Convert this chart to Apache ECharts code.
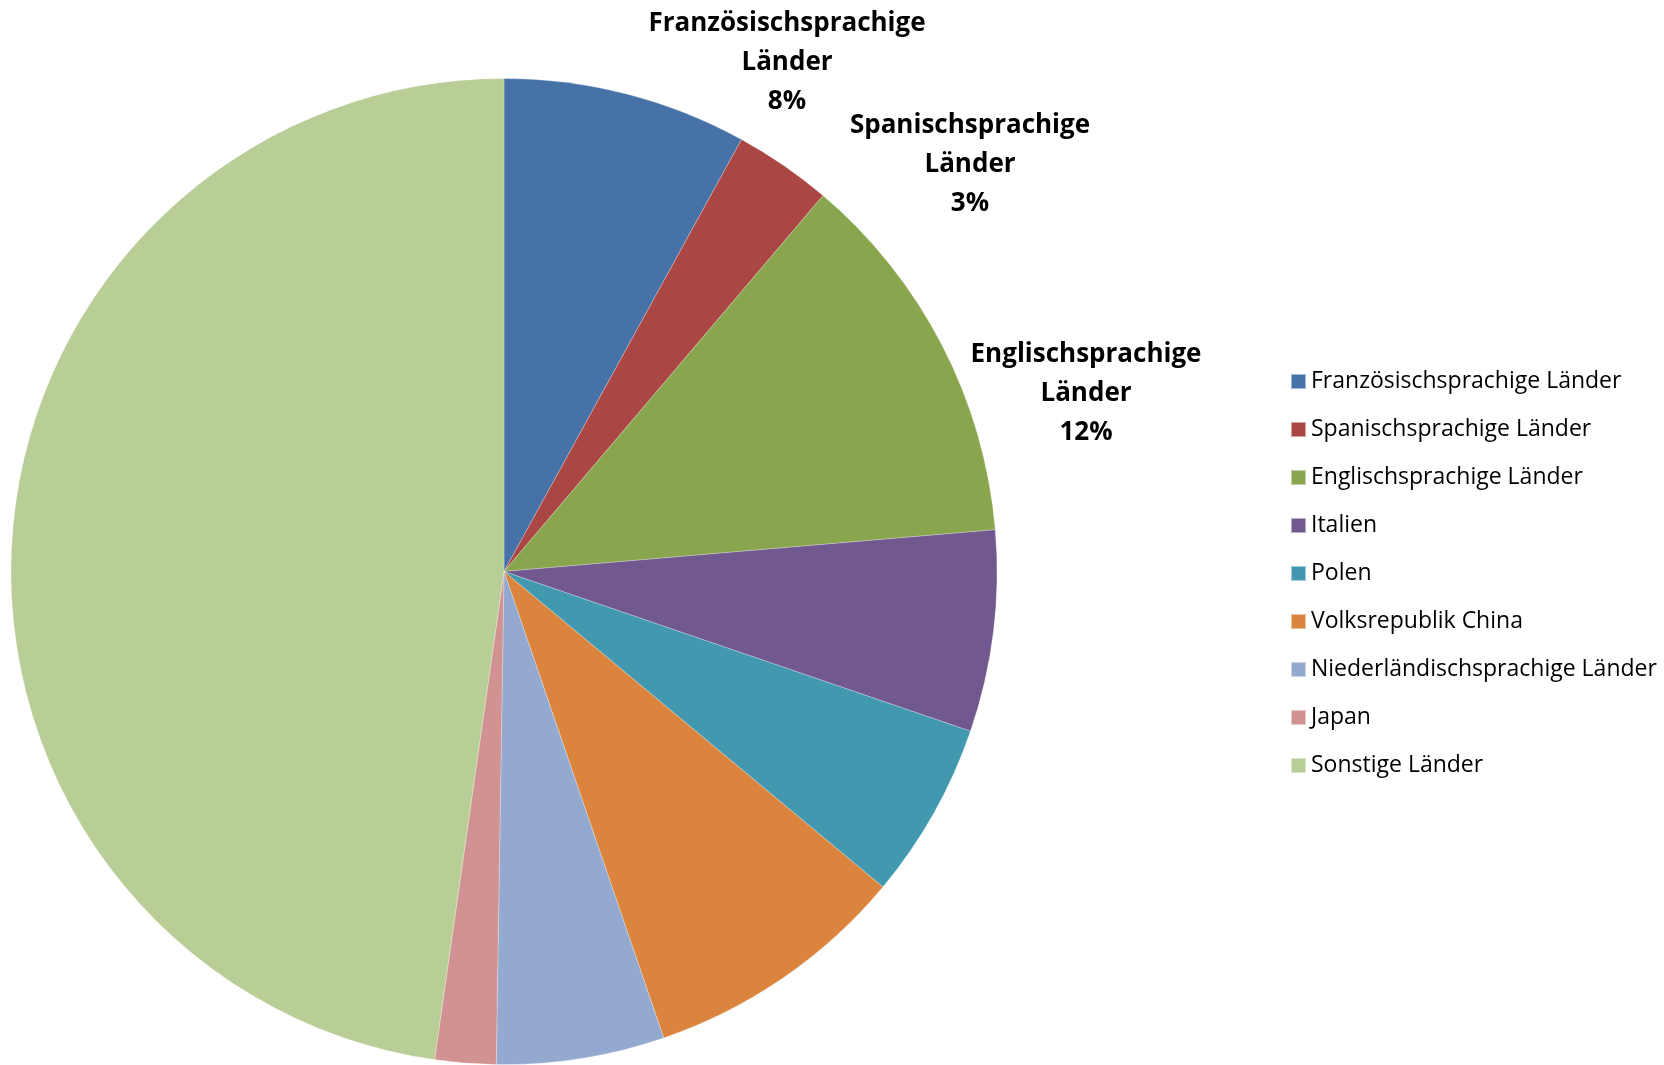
<!DOCTYPE html>
<html>
<head>
<meta charset="utf-8">
<script src="https://cdn.jsdelivr.net/npm/echarts@6/dist/echarts.min.js"></script>
<style>
html,body{margin:0;padding:0;background:#fff;}
#chart{width:1664px;height:1065px;}
</style>
</head>
<body>
<div id="chart"></div>
<script>
const categories = ["Französischsprachige Länder","Spanischsprachige Länder","Englischsprachige Länder","Italien","Polen","Volksrepublik China","Niederländischsprachige Länder","Japan","Sonstige Länder"];
const shares = [8.0, 3.2, 12.45, 6.6, 5.8, 8.7, 5.5, 2.0, 47.75];
const colors = ["#4672A7","#AA4643","#89A54E","#71588F","#4198AF","#DB843D","#93A9CF","#D19392","#B9CD96"];
const labelled = [true, true, true, false, false, false, false, false, false];
// label centre offsets from pie centre (Excel best-fit placement)
const labelOffsets = [[283,-509],[466,-407],[582,-178]];

const cx = 504, cy = 571.5;
const FONT = '"Open Sans", "Noto Sans", sans-serif';

const chart = echarts.init(document.getElementById('chart'), null, {renderer:'canvas'});
chart.setOption({
  animation:false,
  backgroundColor:'#ffffff',
  color: colors,
  legend:{
    orient:'vertical',
    left:1285, top:365,
    icon:'rect',
    itemWidth:15, itemHeight:15,
    itemGap:25,
    textStyle:{fontFamily:FONT, fontSize:23, color:'#000', lineHeight:20},
    data: categories
  },
  series:[{
    type:'pie',
    center:[cx, cy],
    radius:[0, 493],
    startAngle:90,
    clockwise:true,
    avoidLabelOverlap:false,
    itemStyle:{borderWidth:0.5, borderColor:'rgba(255,255,255,0.5)'},
    emphasis:{disabled:true},
    labelLine:{show:false},
    label:{show:false},
    labelLayout:function(p){
      const o = labelOffsets[p.dataIndex];
      if(!o) return {};
      return {x: cx + o[0], y: cy + o[1], align:'center', verticalAlign:'middle'};
    },
    data: categories.map((c,i)=>({
      name:c, value:shares[i],
      label: labelled[i] ? {
        show:true, position:'outside',
        fontFamily:FONT, fontWeight:'bold', fontSize:26, lineHeight:39, color:'#000',
        align:'center',
        formatter:function(p){ return p.name.replace(' ', '\n') + '\n' + Math.round(p.percent) + '%'; }
      } : {show:false}
    }))
  }]
});
</script>
</body>
</html>
